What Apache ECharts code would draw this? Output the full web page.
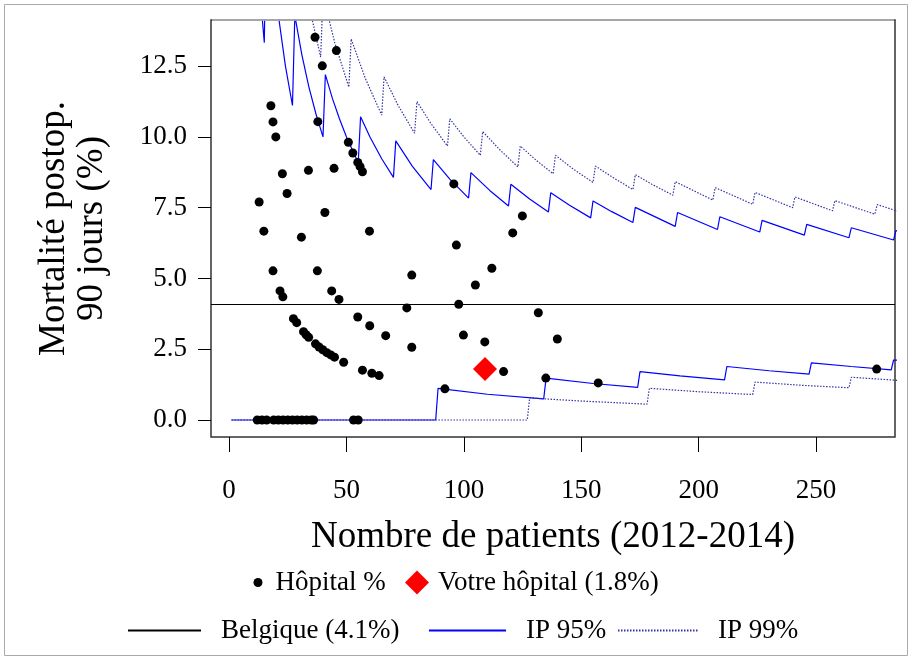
<!DOCTYPE html>
<html>
<head>
<meta charset="utf-8">
<script src="https://cdn.jsdelivr.net/npm/echarts@6/dist/echarts.min.js"></script>
<style>
html, body { margin: 0; padding: 0; background: #fff; }
#chart { width: 912px; height: 660px; }
</style>
</head>
<body>
<div id="chart"></div>
<script>
// Axis ticks
const xTicks = [0, 50, 100, 150, 200, 250];
const yTicks = [0, 2.5, 5, 7.5, 10, 12.5];

// Hospitals: number of patients and 90-day postoperative mortality (%)
const hospitalN = [
  12, 14, 16, 19, 21, 23, 25, 27, 29, 31, 33, 35, 36, 53, 55,
  12.8, 14.8, 17.8, 18.7, 19.9, 18.7, 21.7, 22.9, 22.7, 24.7,
  27.4, 28.8, 30.8, 31.7, 32.8, 33.8, 33.9, 36.6, 36.8, 37.6,
  37.8, 38.3, 39.7, 39.9, 40.8, 41.6, 43.3, 43.7, 44.7, 44.9,
  45.7, 46.8, 48.8, 50.8, 52.7, 54.8, 54.8, 55.8, 56.8, 56.8,
  59.8, 59.9, 60.8, 63.9, 66.7, 75.7, 77.8, 77.8, 91.9, 95.7,
  96.8, 97.8, 99.8, 104.9, 108.9, 111.9, 116.9, 120.8, 124.9, 131.7,
  134.9, 139.8, 157.2, 275.8
];
const hospitalPct = [
  0, 0, 0, 0, 0, 0, 0, 0, 0, 0, 0, 0, 0, 0, 0,
  7.70, 6.67, 11.10, 10.53, 10.00, 5.27, 4.56, 4.35, 8.70, 8.00,
  3.58, 3.44, 6.46, 3.12, 3.01, 8.82, 2.92, 13.52, 2.69, 5.27,
  10.54, 2.58, 12.51, 2.48, 7.33, 2.38, 2.30, 4.56, 8.89, 2.22,
  13.05, 4.26, 2.04, 9.81, 9.43, 9.10, 3.64, 8.95, 8.77, 1.76,
  6.67, 3.33, 1.65, 1.57, 2.98, 3.96, 5.12, 2.57, 1.10, 8.34,
  6.18, 4.09, 3.00, 4.77, 2.76, 5.36, 1.71, 6.61, 7.21, 3.79,
  1.48, 2.86, 1.31, 1.80
];

// Your hospital
const ownN = 109;
const ownPct = 1.8;

// National average
const belgiumPct = 4.1;

// 95% prediction interval
const ip95UpperN = [13, 14, 15, 16, 21, 24, 27, 28, 31, 34, 37, 40, 41, 44, 47, 50, 55, 56, 60, 65, 70, 71, 78, 86, 87, 94, 102, 103, 111, 119, 120, 128, 136, 137, 145, 154, 155, 163, 172, 173, 190, 191, 208, 209, 226, 227, 245, 246, 264, 265, 283, 284, 285];
const ip95UpperPct = [15.38, 14.29, 13.33, 18.75, 14.29, 12.5, 11.11, 14.29, 12.9, 11.76, 10.81, 10.0, 12.2, 11.36, 10.64, 10.0, 9.09, 10.71, 10.0, 9.23, 8.57, 9.86, 8.97, 8.14, 9.2, 8.51, 7.84, 8.74, 8.11, 7.56, 8.33, 7.81, 7.35, 8.03, 7.59, 7.14, 7.74, 7.36, 6.98, 7.51, 6.84, 7.33, 6.73, 7.18, 6.64, 7.05, 6.53, 6.91, 6.44, 6.79, 6.36, 6.69, 6.67];
const ip95LowerN = [1, 88, 89, 110, 134, 135, 155, 174, 175, 192, 211, 212, 230, 247, 248, 265, 282, 283, 285];
const ip95LowerPct = [0, 0, 1.12, 0.91, 0.75, 1.48, 1.29, 1.15, 1.71, 1.56, 1.42, 1.89, 1.74, 1.62, 2.02, 1.89, 1.77, 2.12, 2.11];

// 99% prediction interval
const ip99UpperN = [29, 35, 39, 40, 45, 51, 52, 58, 65, 66, 72, 79, 80, 86, 93, 94, 100, 107, 108, 115, 123, 124, 131, 138, 139, 147, 155, 156, 164, 172, 173, 180, 189, 190, 206, 207, 223, 224, 240, 241, 257, 258, 275, 276, 285];
const ip99UpperPct = [17.24, 14.29, 12.82, 15.0, 13.33, 11.76, 13.46, 12.07, 10.77, 12.12, 11.11, 10.13, 11.25, 10.47, 9.68, 10.64, 10.0, 9.35, 10.19, 9.57, 8.94, 9.68, 9.16, 8.7, 9.35, 8.84, 8.39, 8.97, 8.54, 8.14, 8.67, 8.33, 7.94, 8.42, 7.77, 8.21, 7.62, 8.04, 7.5, 7.88, 7.39, 7.75, 7.27, 7.61, 7.37];
const ip99LowerN = [1, 127, 128, 150, 178, 179, 200, 223, 224, 245, 264, 265, 285];
const ip99LowerPct = [0, 0, 0.78, 0.67, 0.56, 1.12, 1.0, 0.9, 1.34, 1.22, 1.14, 1.51, 1.4];

const zip = (xs, ys) => xs.map((x, i) => [x, ys[i]]);

const FONT = 'Liberation Serif';
const BLUE = '#0000ff';
const NAVY = '#3333a8';

const chart = echarts.init(document.getElementById('chart'), null, { renderer: 'canvas' });

const lineBase = {
  type: 'line',
  symbol: 'none',
  smooth: false,
  silent: true,
  animation: false,
  clip: true
};

const legendText = { fontFamily: FONT, fontSize: 27, color: '#000' };
// line legends: keep the stroke, hide the marker the line icon adds
const lineLegend = (name, left, width) => ({
  data: [name], left: left, top: 617, padding: 0,
  itemWidth: width, itemHeight: 14,
  itemStyle: { opacity: 0 },
  textStyle: { ...legendText, padding: [0, 0, 0, 15] }
});

chart.setOption({
  animation: false,
  backgroundColor: '#fff',
  textStyle: { fontFamily: FONT, color: '#000' },
  grid: {
    left: 211, right: 17, top: 20, bottom: 223,
    show: true, borderColor: '#333', borderWidth: 1.5, backgroundColor: 'transparent'
  },
  xAxis: {
    type: 'value',
    min: -7.7, max: 283.6,
    name: 'Nombre de patients (2012-2014)',
    nameLocation: 'middle',
    nameGap: 82,
    nameTextStyle: { fontFamily: FONT, fontSize: 37, color: '#000' },
    axisLine: { show: false, onZero: false },
    axisTick: { show: true, length: 15, lineStyle: { color: '#000', width: 1 }, customValues: xTicks },
    axisLabel: { fontFamily: FONT, fontSize: 27, color: '#000', margin: 40, customValues: xTicks, formatter: v => String(v) },
    splitLine: { show: false }
  },
  yAxis: {
    type: 'value',
    min: -0.6, max: 14.13,
    name: 'Mortalité postop.\n90 jours (%)',
    nameLocation: 'middle',
    nameRotate: 90,
    nameGap: 100,
    nameTextStyle: { fontFamily: FONT, fontSize: 37, color: '#000', lineHeight: 38 },
    axisLine: { show: false, onZero: false },
    axisTick: { show: true, length: 13, lineStyle: { color: '#000', width: 1 }, customValues: yTicks },
    axisLabel: { fontFamily: FONT, fontSize: 27, color: '#000', margin: 24, customValues: yTicks, formatter: v => v.toFixed(1) },
    splitLine: { show: false }
  },
  legend: [
    {
      data: ['Hôpital %'], left: 253.5, top: 569, padding: 0, itemWidth: 9, itemHeight: 9,
      textStyle: { ...legendText, padding: [0, 0, 0, 8] }
    },
    {
      data: ['Votre hôpital (1.8%)'], left: 405, top: 569, padding: 0, itemWidth: 24, itemHeight: 24,
      textStyle: { ...legendText, padding: [0, 0, 0, 4] }
    },
    lineLegend('Belgique (4.1%)', 127, 73),
    lineLegend('IP 95%', 428, 77),
    lineLegend('IP 99%', 617, 80)
  ],
  graphic: [
    {
      type: 'rect', silent: true, z: -1,
      shape: { x: 4.5, y: 4.5, width: 903, height: 651 },
      style: { fill: 'none', stroke: '#aaa', lineWidth: 1 }
    },
    {
      type: 'line', silent: true, z: 100,
      shape: { x1: 212, y1: 20, x2: 894, y2: 20 },
      style: { stroke: '#bdbdbd', lineWidth: 1.6 }
    }
  ],
  series: [
    {
      ...lineBase,
      name: 'Belgique (4.1%)',
      data: [],
      lineStyle: { color: '#000', width: 1.2 },
      itemStyle: { color: '#000' },
      markLine: {
        silent: true, symbol: 'none', animation: false,
        label: { show: false },
        lineStyle: { color: '#000', width: 1.2, type: 'solid' },
        data: [{ yAxis: belgiumPct }]
      }
    },
    {
      ...lineBase, name: 'IP 95%', data: zip(ip95UpperN, ip95UpperPct),
      lineStyle: { color: BLUE, width: 1.2 }, itemStyle: { color: BLUE }
    },
    {
      ...lineBase, name: 'IP 95%', data: zip(ip95LowerN, ip95LowerPct),
      lineStyle: { color: BLUE, width: 1.2 }, itemStyle: { color: BLUE }
    },
    {
      ...lineBase, name: 'IP 99%', data: zip(ip99UpperN, ip99UpperPct),
      lineStyle: { color: NAVY, width: 1.2, type: [1.5, 1.5] }, itemStyle: { color: NAVY }
    },
    {
      ...lineBase, name: 'IP 99%', data: zip(ip99LowerN, ip99LowerPct),
      lineStyle: { color: NAVY, width: 1.2, type: [1.5, 1.5] }, itemStyle: { color: NAVY }
    },
    {
      type: 'scatter', name: 'Hôpital %', z: 5, silent: true,
      symbol: 'circle', symbolSize: 9,
      itemStyle: { color: '#000', opacity: 1 },
      data: zip(hospitalN, hospitalPct)
    },
    {
      type: 'scatter', name: 'Votre hôpital (1.8%)', z: 6, silent: true,
      symbol: 'diamond', symbolSize: [24, 24],
      itemStyle: { color: '#ff0000', opacity: 1 },
      data: [[ownN, ownPct]]
    }
  ]
});
</script>
</body>
</html>
